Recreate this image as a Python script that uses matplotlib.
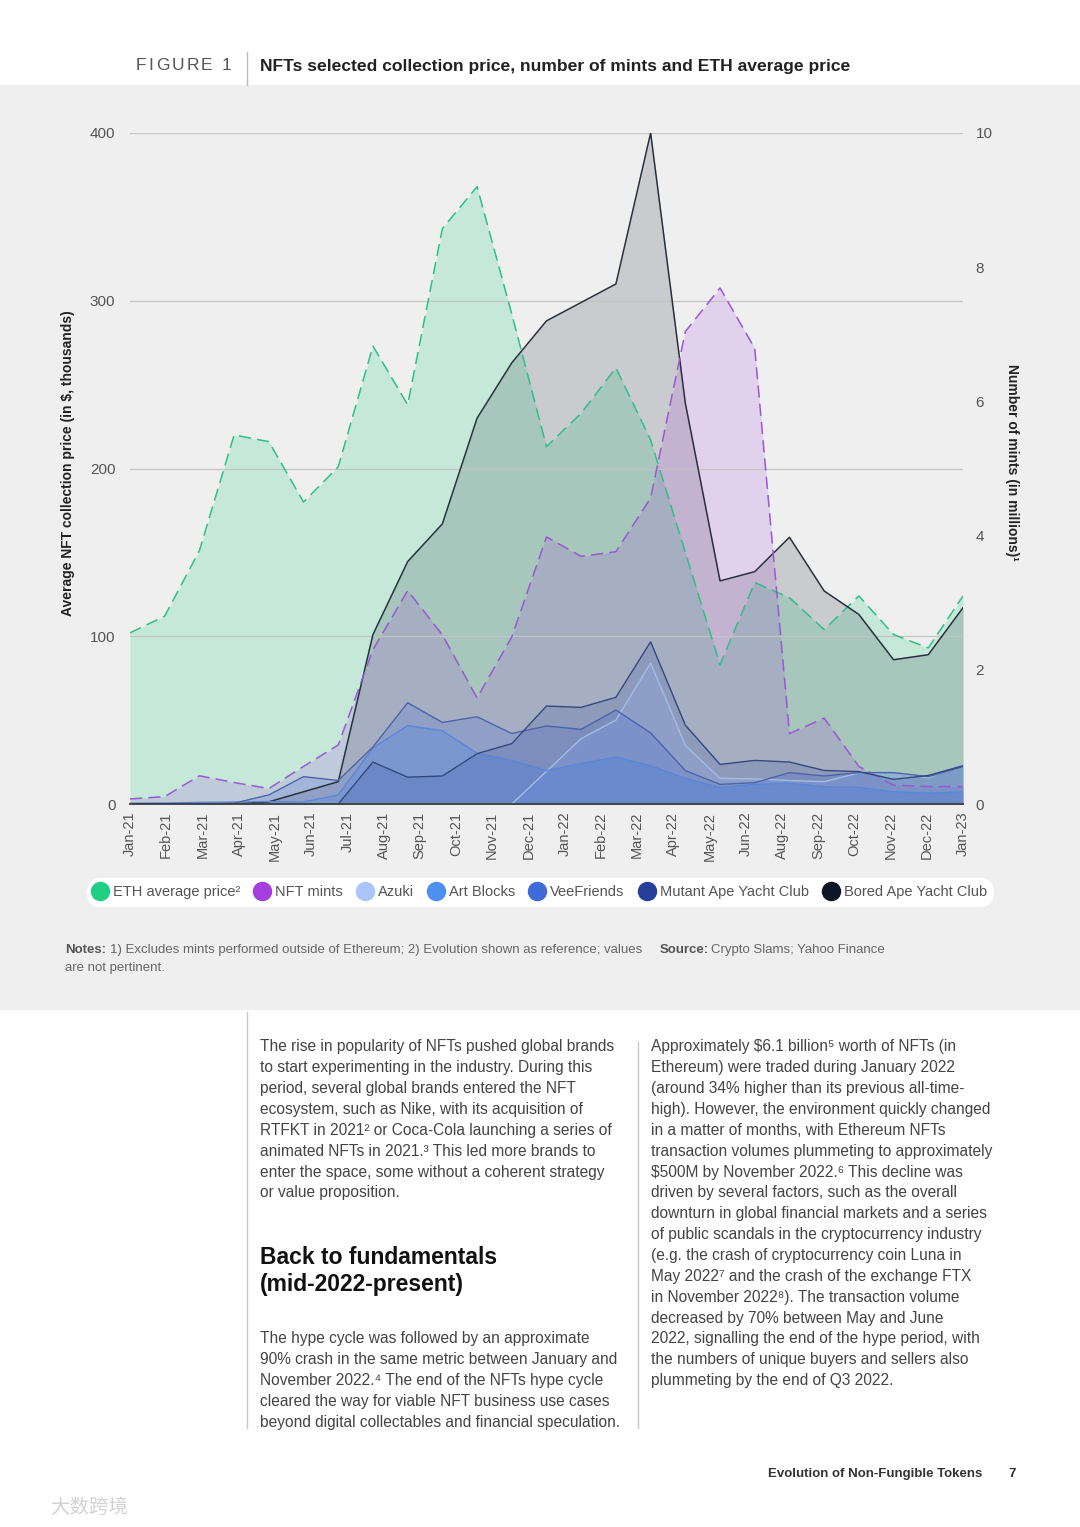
import matplotlib
import numpy as np

matplotlib.use("Agg")
import matplotlib.pyplot as plt
from matplotlib.lines import Line2D
from matplotlib.patches import Rectangle

plt.rcParams["font.family"] = ["Liberation Sans", "DejaVu Sans"]

# ---- data ----
months = [
    "Jan-21", "Feb-21", "Mar-21", "Apr-21", "May-21", "Jun-21", "Jul-21", "Aug-21",
    "Sep-21", "Oct-21", "Nov-21", "Dec-21", "Jan-22", "Feb-22", "Mar-22", "Apr-22",
    "May-22", "Jun-22", "Jul-22", "Aug-22", "Sep-22", "Oct-22", "Nov-22", "Dec-22", "Jan-23",
]
# the original axis prints 24 labels (no Jul-22) spread over the 25 months
tick_labels = [
    "Jan-21", "Feb-21", "Mar-21", "Apr-21", "May-21", "Jun-21", "Jul-21", "Aug-21",
    "Sep-21", "Oct-21", "Nov-21", "Dec-21", "Jan-22", "Feb-22", "Mar-22", "Apr-22",
    "May-22", "Jun-22", "Aug-22", "Sep-22", "Oct-22", "Nov-22", "Dec-22", "Jan-23",
]

eth_price = [102, 112, 151, 220, 216, 180, 201, 273, 238, 343, 368, 292, 213,
             233, 260, 217, 150, 83, 132, 123, 104, 124, 101, 93, 124]
bayc = [0, 0, 0, 0, 1.3, 7.3, 13.3, 101, 144.5, 167, 230, 263, 288,
        299, 310, 400, 239, 133, 138.5, 159, 127, 113, 86, 89, 117]
nft_mints = [0.075, 0.11, 0.42, 0.32, 0.23, 0.56, 0.88, 2.3, 3.18, 2.52, 1.58, 2.49, 3.98,
             3.69, 3.76, 4.56, 7.04, 7.69, 6.79, 1.05, 1.28, 0.56, 0.28, 0.26, 0.26]
azuki = [0, 0, 0, 0, 0, 0, 0, 0, 0, 0, 0, 0, 19.5,
         39, 50, 84, 35, 15.3, 15, 14, 13.3, 18.5, 19, 15.5, 24]
art_blocks = [0.5, 0.6, 1.0, 1.2, 1.5, 1.2, 5.4, 33.4, 46.7, 43.7, 30.2, 26, 19.9,
              24.1, 28, 22.8, 15.3, 9.7, 11.7, 12.3, 10.3, 9.9, 7.3, 6.4, 7.3]
veefriends = [0, 0, 0, 0.5, 5.4, 16.3, 14, 34, 60.4, 48.6, 52, 42, 46.5,
              44.5, 56, 42.4, 19.9, 11.7, 12.7, 18.7, 16.7, 18.7, 18.7, 16.3, 22.3]
mayc = [0, 0, 0, 0, 0, 0, 0, 25, 16, 16.7, 30, 36, 58.4,
        57.6, 63.6, 96.7, 47, 23.6, 26, 25, 20, 19.3, 14.7, 17, 22.8]

W, H = 1080, 1527
PANEL = "#efefef"
TICK_C = "#555555"


def fx(x):
    return x / W


def fy(y):
    return 1 - y / H


fig = plt.figure(figsize=(W / 100, H / 100), dpi=100)
fig.patch.set_facecolor("white")
fig.patches.append(Rectangle((0, fy(1010)), 1, (1010 - 85) / H, transform=fig.transFigure,
                             facecolor=PANEL, edgecolor="none", zorder=-5))

ax = fig.add_axes([fx(130), fy(804), (963 - 130) / W, (804 - 133) / H])
ax.patch.set_visible(False)
x = np.arange(len(months))

# right-hand scale for the mints; the series itself is drawn in ax with this scale
ax2 = ax.twinx()
ax2.patch.set_visible(False)
ax2.set_ylim(0, 10)
ax2.set_yticks([0, 2, 4, 6, 8, 10])
ax2.tick_params(axis="y", length=0, labelsize=11, labelcolor=TICK_C, pad=9)
for side in ax2.spines:
    ax2.spines[side].set_visible(False)
ax.set_zorder(ax2.get_zorder() + 1)

ax.set_xlim(0, len(months) - 1)
ax.set_ylim(0, 400)

ax.fill_between(x, eth_price, color="#1ecf84", alpha=0.2, lw=0)
ax.plot(x, eth_price, color="#2fbf88", lw=1.1, dashes=(8, 4))
ax.fill_between(x, bayc, color="#0c1526", alpha=0.16, lw=0)
ax.plot(x, bayc, color="#27303d", lw=1.1)
ax.fill_between(x, nft_mints, color="#a63de0", alpha=0.17, lw=0, transform=ax2.transData)
ax.plot(x, nft_mints, color="#9a58d2", lw=1.1, dashes=(8, 4), transform=ax2.transData)

series = [
    (azuki, "#a9c6f7", 0.3, "#a3bde8"),
    (art_blocks, "#4f8ff0", 0.3, "#5a86d8"),
    (veefriends, "#3f6ad8", 0.22, "#4a64a8"),
    (mayc, "#26409a", 0.18, "#33487f"),
]
for values, fill_c, alpha, line_c in series:
    ax.fill_between(x, values, color=fill_c, alpha=alpha, lw=0)
    ax.plot(x, values, color=line_c, lw=1.0)

ax.set_xlim(0, len(months) - 1)
ax.set_ylim(0, 400)
ax.set_yticks([0, 100, 200, 300, 400])
ax.set_xticks(np.linspace(0, len(months) - 1, len(tick_labels)))
ax.set_xticklabels(tick_labels, rotation=90, fontsize=10.5, color=TICK_C)
ax.tick_params(axis="both", length=0, labelsize=11, labelcolor=TICK_C)
ax.tick_params(axis="x", pad=5.5, labelsize=10.5)
ax.tick_params(axis="y", pad=10.5)
ax.grid(axis="y", color="#c4c4c4", lw=0.9)
ax.grid(axis="x", visible=False)
for side in ["top", "right", "left"]:
    ax.spines[side].set_visible(False)
ax.spines["bottom"].set_color("#3d3d3d")
ax.spines["bottom"].set_linewidth(1.3)

fig.text(fx(68), fy(463), "Average NFT collection price (in $, thousands)", rotation=90,
         ha="center", va="center", fontsize=10, weight="bold", color="#222222")
fig.text(fx(1012), fy(462), "Number of mints (in millions)¹", rotation=270,
         ha="center", va="center", fontsize=10, weight="bold", color="#222222")

# legend pill
legend_names = ["ETH average price²", "NFT mints", "Azuki", "Art Blocks", "VeeFriends",
                "Mutant Ape Yacht Club", "Bored Ape Yacht Club"]
legend_colors = ["#1ecf84", "#a63de0", "#a9c6f7", "#4f8ff0", "#3f6ad8", "#26409a", "#0c1526"]
handles = [Line2D([], [], ls="none", marker="o", markersize=13, markerfacecolor=c,
                  markeredgecolor=c) for c in legend_colors]
leg = fig.legend(handles, legend_names, loc="center", bbox_to_anchor=(fx(540), fy(892)),
                 ncol=7, frameon=True, fontsize=10.5, handlelength=0.9, handletextpad=0.45,
                 columnspacing=1.05, borderpad=0.45, labelcolor=TICK_C)
frame = leg.get_frame()
frame.set_facecolor("white")
frame.set_edgecolor("white")
frame.set_alpha(1)
frame.set_boxstyle("round,pad=0,rounding_size=1.0")

# notes and source
fig.text(fx(65), fy(950), "Notes:", fontsize=9.5, weight="bold", color="#555555", va="center")
fig.text(fx(110), fy(950),
         "1) Excludes mints performed outside of Ethereum; 2) Evolution shown as reference; values",
         fontsize=9.5, color="#666666", va="center")
fig.text(fx(65), fy(968), "are not pertinent.", fontsize=9.5, color="#666666", va="center")
fig.text(fx(660), fy(950), "Source:", fontsize=9.5, weight="bold", color="#555555", va="center")
fig.text(fx(711), fy(950), "Crypto Slams; Yahoo Finance", fontsize=9.5, color="#666666",
         va="center")

# figure title
renderer = fig.canvas.get_renderer()
cx = 136
for ch in "FIGURE 1":
    t = fig.text(fx(cx), fy(66), ch, fontsize=12.5, color="#555555", va="center")
    cx += t.get_window_extent(renderer).width + 2.2
fig.text(fx(260), fy(66), "NFTs selected collection price, number of mints and ETH average price",
         fontsize=12.6, weight="bold", color="#222222", va="center")
fig.add_artist(Line2D([fx(247), fx(247)], [fy(52), fy(85)], color="#bdbdbd", lw=1))

# body text
body_c = "#444444"
left_par1 = [
    "The rise in popularity of NFTs pushed global brands",
    "to start experimenting in the industry. During this",
    "period, several global brands entered the NFT",
    "ecosystem, such as Nike, with its acquisition of",
    "RTFKT in 2021² or Coca-Cola launching a series of",
    "animated NFTs in 2021.³ This led more brands to",
    "enter the space, some without a coherent strategy",
    "or value proposition.",
]
left_par2 = [
    "The hype cycle was followed by an approximate",
    "90% crash in the same metric between January and",
    "November 2022.⁴ The end of the NFTs hype cycle",
    "cleared the way for viable NFT business use cases",
    "beyond digital collectables and financial speculation.",
]
right_par = [
    "Approximately $6.1 billion⁵ worth of NFTs (in",
    "Ethereum) were traded during January 2022",
    "(around 34% higher than its previous all-time-",
    "high). However, the environment quickly changed",
    "in a matter of months, with Ethereum NFTs",
    "transaction volumes plummeting to approximately",
    "$500M by November 2022.⁶ This decline was",
    "driven by several factors, such as the overall",
    "downturn in global financial markets and a series",
    "of public scandals in the cryptocurrency industry",
    "(e.g. the crash of cryptocurrency coin Luna in",
    "May 2022⁷ and the crash of the exchange FTX",
    "in November 2022⁸). The transaction volume",
    "decreased by 70% between May and June",
    "2022, signalling the end of the hype period, with",
    "the numbers of unique buyers and sellers also",
    "plummeting by the end of Q3 2022.",
]
LH = 20.85
for i, line in enumerate(left_par1):
    fig.text(fx(260), fy(1047 + i * LH), line, fontsize=11.2, color=body_c, va="center")
for i, line in enumerate(left_par2):
    fig.text(fx(260), fy(1339 + i * LH), line, fontsize=11.2, color=body_c, va="center")
for i, line in enumerate(right_par):
    fig.text(fx(651), fy(1047 + i * LH), line, fontsize=11.2, color=body_c, va="center")
fig.text(fx(260), fy(1257), "Back to fundamentals", fontsize=16.5, weight="bold",
         color="#111111", va="center")
fig.text(fx(260), fy(1285), "(mid-2022-present)", fontsize=16.5, weight="bold",
         color="#111111", va="center")
fig.add_artist(Line2D([fx(247), fx(247)], [fy(1012), fy(1428)], color="#c8c8c8", lw=1))
fig.add_artist(Line2D([fx(638), fx(638)], [fy(1042), fy(1428)], color="#c8c8c8", lw=1))

# footer
fig.text(fx(982), fy(1474), "Evolution of Non-Fungible Tokens", fontsize=9.5, weight="bold",
         color="#333333", ha="right", va="center")
fig.text(fx(1012), fy(1474), "7", fontsize=9.5, weight="bold", color="#333333",
         ha="center", va="center")
fig.text(fx(50), fy(1507), "大数跨境", fontsize=14, color="#d2d2d2", va="center",
         family=["Noto Sans CJK SC", "DejaVu Sans"])

fig.savefig("out.png", dpi=100, facecolor="white")
plt.close(fig)
